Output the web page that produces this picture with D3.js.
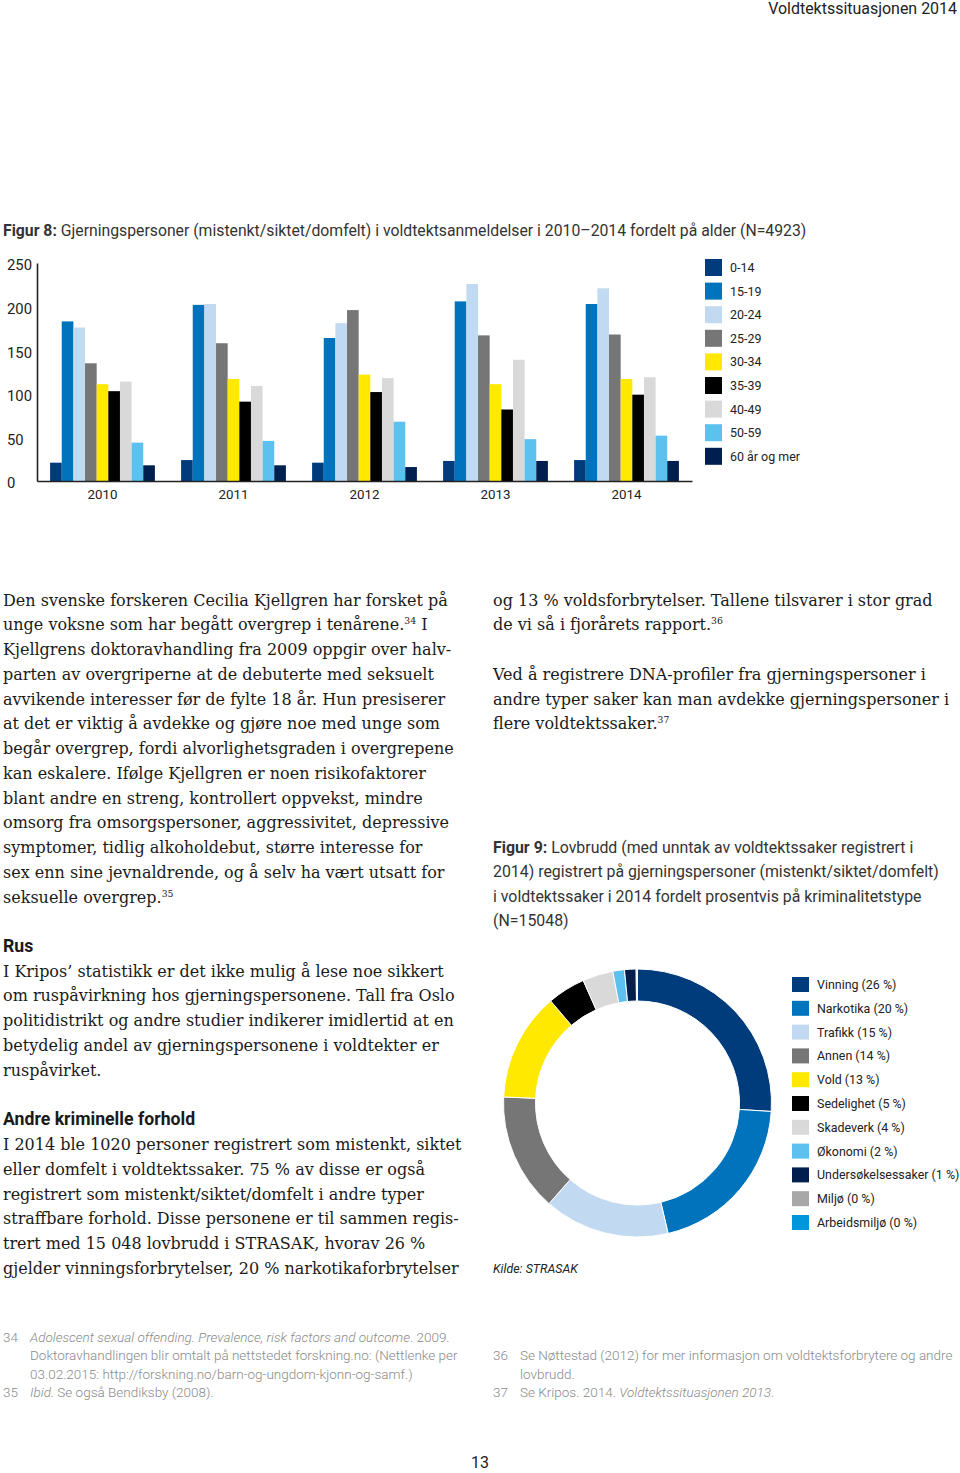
<!DOCTYPE html>
<html><head><meta charset="utf-8">
<script src="https://cdn.jsdelivr.net/npm/d3@7"></script>
<style>html,body{margin:0;padding:0;background:#fff}</style>
</head><body>
<script>
// ---------- DATA ----------
const years = ["2010","2011","2012","2013","2014"];
const ageGroups = ["0-14","15-19","20-24","25-29","30-34","35-39","40-49","50-59","60 år og mer"];
const ageColors = ["#003b7c","#0073bd","#c2daf1","#767676","#ffe900","#000000","#d9d9d9","#5cc1ee","#001f4f"];
const counts2010 = [21,183,176,135,111,103,114,44,18];
const counts2011 = [24,202,203,158,117,91,109,46,18];
const counts2012 = [21,164,181,196,122,102,118,68,16];
const counts2013 = [23,206,226,167,111,82,139,48,23];
const counts2014 = [24,203,221,168,117,99,119,52,23];
const countsByYear = [counts2010,counts2011,counts2012,counts2013,counts2014];
const yTicks = [0,50,100,150,200,250];

const crimeTypes = ["Vinning","Narkotika","Trafikk","Annen","Vold","Sedelighet","Skadeverk","Økonomi","Undersøkelsessaker","Miljø","Arbeidsmiljø"];
const crimeShares = [26.1,20.4,15.2,14.3,13.1,4.6,3.7,1.4,1.4,0.08,0.08];
const crimeLabels = ["26 %","20 %","15 %","14 %","13 %","5 %","4 %","2 %","1 %","0 %","0 %"];
const crimeColors = ["#003b7c","#0073bd","#c2daf1","#767676","#ffe900","#000000","#d9d9d9","#5cc1ee","#001f4f","#a8a8a8","#0096db"];

const headerText = "Voldtektssituasjonen 2014";
const fig8Title = "**Figur 8:** Gjerningspersoner (mistenkt/siktet/domfelt) i voldtektsanmeldelser i 2010–2014 fordelt på alder (N=4923)";
const fig9Title = [
  "**Figur 9:** Lovbrudd (med unntak av voldtektssaker registrert i",
  "2014) registrert på gjerningspersoner (mistenkt/siktet/domfelt)",
  "i voldtektssaker i 2014 fordelt prosentvis på kriminalitetstype",
  "(N=15048)"];
const source9 = "Kilde: STRASAK";
const para1 = [
  "Den svenske forskeren Cecilia Kjellgren har forsket på",
  "unge voksne som har begått overgrep i tenårene.^34 I",
  "Kjellgrens doktoravhandling fra 2009 oppgir over halv-",
  "parten av overgriperne at de debuterte med seksuelt",
  "avvikende interesser før de fylte 18 år. Hun presiserer",
  "at det er viktig å avdekke og gjøre noe med unge som",
  "begår overgrep, fordi alvorlighetsgraden i overgrepene",
  "kan eskalere. Ifølge Kjellgren er noen risikofaktorer",
  "blant andre en streng, kontrollert oppvekst, mindre",
  "omsorg fra omsorgspersoner, aggressivitet, depressive",
  "symptomer, tidlig alkoholdebut, større interesse for",
  "sex enn sine jevnaldrende, og å selv ha vært utsatt for",
  "seksuelle overgrep.^35"];
const head2 = "Rus";
const para2 = [
  "I Kripos’ statistikk er det ikke mulig å lese noe sikkert",
  "om ruspåvirkning hos gjerningspersonene. Tall fra Oslo",
  "politidistrikt og andre studier indikerer imidlertid at en",
  "betydelig andel av gjerningspersonene i voldtekter er",
  "ruspåvirket."];
const head3 = "Andre kriminelle forhold";
const para3 = [
  "I 2014 ble 1020 personer registrert som mistenkt, siktet",
  "eller domfelt i voldtektssaker. 75 % av disse er også",
  "registrert som mistenkt/siktet/domfelt i andre typer",
  "straffbare forhold. Disse personene er til sammen regis-",
  "trert med 15 048 lovbrudd i STRASAK, hvorav 26 %",
  "gjelder vinningsforbrytelser, 20 % narkotikaforbrytelser"];
const paraRight = [
  "og 13 % voldsforbrytelser. Tallene tilsvarer i stor grad",
  "de vi så i fjorårets rapport.^36",
  "",
  "Ved å registrere DNA-profiler fra gjerningspersoner i",
  "andre typer saker kan man avdekke gjerningspersoner i",
  "flere voldtektssaker.^37"];
const footLeft = [
  ["34","_Adolescent sexual offending. Prevalence, risk factors and outcome_. 2009."],
  ["","Doktoravhandlingen blir omtalt på nettstedet forskning.no: (Nettlenke per"],
  ["","03.02.2015: http://forskning.no/barn-og-ungdom-kjonn-og-samf.)"],
  ["35","_Ibid._ Se også Bendiksby (2008)."]];
const footRight = [
  ["36","Se Nøttestad (2012) for mer informasjon om voldtektsforbrytere og andre"],
  ["","lovbrudd."],
  ["37","Se Kripos. 2014. _Voldtektssituasjonen 2013_."]];
const pageNo = "13";

// ---------- SETUP ----------
const W = 960, H = 1473;
const SERIF = "'DejaVu Serif', serif";
const SANS = "Roboto, 'Noto Sans', sans-serif";
const svg = d3.select("body").append("svg").attr("width", W).attr("height", H)
  .style("display","block");

function fit(str, family, target, weight, style) {
  const t = svg.append("text").attr("font-family", family).attr("font-size", 100)
    .attr("font-weight", weight || 400).attr("font-style", style || "normal").text(str);
  const w = t.node().getComputedTextLength(); t.remove();
  return 100 * target / w;
}
const bodySize = fit(para1[0], SERIF, 445);
const capSize = fit("Gjerningspersoner (mistenkt/siktet/domfelt) i voldtektsanmeldelser i 2010–2014 fordelt på alder (N=4923)", SANS, 746);
const cap9Size = fit(fig9Title[1], SANS, 446);
const legSize = fit("60 år og mer", SANS, 70);
const footSize = fit("Doktoravhandlingen blir omtalt på nettstedet forskning.no: (Nettlenke per", SANS, 428, 300);
const axisSize = fit("2010", SANS, 30);
const yLabSize = fit("250", SANS, 25);
const headerSize = fit(headerText, SANS, 189);

function richLine(g, x, y, str, opts) {
  const t = g.append("text").attr("x", x).attr("y", y)
    .attr("font-family", opts.family).attr("font-size", opts.size)
    .attr("font-weight", opts.weight || 400).attr("fill", opts.fill || "#1a1a1a");
  const parts = str.split(/(\*\*[^*]+\*\*|_[^_]+_|\^\d+)/).filter(s => s.length);
  let raised = false;
  parts.forEach(p => {
    const ts = t.append("tspan");
    if (raised) { ts.attr("dy", opts.size * 0.38); raised = false; }
    if (p.startsWith("**")) ts.attr("font-weight", 700).text(p.slice(2, -2));
    else if (p.startsWith("_")) ts.attr("font-style", "italic").text(p.slice(1, -1));
    else if (p.startsWith("^")) { ts.attr("font-size", opts.size * 0.58).attr("dy", -opts.size * 0.38).text(p.slice(1)); raised = true; }
    else ts.text(p);
  });
  return t;
}
function block(lines, x, y0, pitch, opts) {
  const g = svg.append("g");
  lines.forEach((l, i) => { if (l) richLine(g, x, y0 + i * pitch, l, opts); });
}

// header
svg.append("text").attr("x", 957).attr("y", 14).attr("text-anchor", "end")
  .attr("font-family", SANS).attr("font-size", headerSize).attr("fill", "#222").text(headerText);

// ---------- FIGURE 8 ----------
richLine(svg, 3, 236, fig8Title, {family: SANS, size: capSize, fill: "#333"});

const x0 = d3.scaleBand().domain(years).range([37, 692]).paddingInner(0.2).paddingOuter(0.1);
const x1 = d3.scaleBand().domain(ageGroups).range([0, x0.bandwidth()]);
const y = d3.scaleLinear().domain([0, 250]).range([481, 263]);
const ageColor = d3.scaleOrdinal().domain(ageGroups).range(ageColors);

const bars = svg.append("g");
years.forEach((yr, yi) => {
  bars.append("g").attr("transform", `translate(${x0(yr)},0)`)
    .selectAll("rect").data(countsByYear[yi].map((v, i) => ({k: ageGroups[i], v})))
    .join("rect")
    .attr("x", d => x1(d.k)).attr("width", x1.bandwidth())
    .attr("y", d => y(d.v)).attr("height", d => y(0) - y(d.v))
    .attr("fill", d => ageColor(d.k));
});

// y axis
const yAxis = svg.append("g").attr("transform", "translate(37,0)")
  .call(d3.axisLeft(y).tickValues(yTicks).tickSize(0).tickPadding(0).tickFormat(d3.format("d")));
yAxis.select(".domain").attr("stroke", "#222").attr("stroke-width", 1.6);
yAxis.selectAll("text").attr("x", -30).attr("text-anchor", "start")
  .attr("font-family", SANS).attr("font-size", yLabSize).attr("fill", "#222")
  .attr("dy", "0.36em");
yAxis.selectAll(".tick").attr("transform", d => `translate(0,${y(d) + 2})`);

// x axis
const xAxis = svg.append("g").attr("transform", `translate(0,${y(0)})`)
  .call(d3.axisBottom(x0).tickSize(0).tickPadding(9).tickSizeOuter(0));
xAxis.select(".domain").attr("stroke", "#222").attr("stroke-width", 1.6);
xAxis.selectAll("text").attr("font-family", SANS).attr("font-size", axisSize).attr("fill", "#222");

// legend
const leg8 = svg.append("g").selectAll("g").data(ageGroups).join("g")
  .attr("transform", (d, i) => `translate(705,${259 + i * 23.6})`);
leg8.append("rect").attr("width", 17).attr("height", 17).attr("fill", d => ageColor(d));
leg8.append("text").attr("x", 25).attr("y", 13).attr("font-family", SANS)
  .attr("font-size", legSize).attr("fill", "#222").text(d => d);

// ---------- BODY TEXT ----------
const bodyOpts = {family: SERIF, size: bodySize, fill: "#1a1a1a"};
const P = 24.75;
block(para1, 3, 605.7, P, bodyOpts);
svg.append("text").attr("x", 3).attr("y", 952).attr("font-family", SANS).attr("font-weight", 700)
  .attr("font-size", capSize * 1.12).attr("fill", "#1a1a1a").text(head2);
block(para2, 3, 976.7, P, bodyOpts);
svg.append("text").attr("x", 3).attr("y", 1125).attr("font-family", SANS).attr("font-weight", 700)
  .attr("font-size", capSize * 1.12).attr("fill", "#1a1a1a").text(head3);
block(para3, 3, 1150, P, bodyOpts);
block(paraRight, 493, 605.5, P, bodyOpts);

// ---------- FIGURE 9 ----------
block(fig9Title, 493, 852.5, 24.6, {family: SANS, size: cap9Size, fill: "#333"});

const crimeColor = d3.scaleOrdinal().domain(crimeTypes).range(crimeColors);
const pie = d3.pie().sort(null).value(d => d.v);
const arc = d3.arc().innerRadius(102).outerRadius(134);
const pieData = pie(crimeTypes.map((k, i) => ({k, v: crimeShares[i]})));
svg.append("g").attr("transform", "translate(637.5,1103)")
  .selectAll("path").data(pieData).join("path")
  .attr("d", arc).attr("fill", d => crimeColor(d.data.k))
  .attr("stroke", "#fff").attr("stroke-width", 1);

const leg9 = svg.append("g").selectAll("g").data(crimeTypes).join("g")
  .attr("transform", (d, i) => `translate(792,${977 + i * 23.8})`);
leg9.append("rect").attr("width", 17).attr("height", 15).attr("fill", d => crimeColor(d));
leg9.append("text").attr("x", 25).attr("y", 12).attr("font-family", SANS)
  .attr("font-size", legSize).attr("fill", "#222")
  .text((d, i) => `${d} (${crimeLabels[i]})`);

svg.append("text").attr("x", 493).attr("y", 1273).attr("font-family", SANS)
  .attr("font-style", "italic").attr("font-size", legSize).attr("fill", "#222").text(source9);

// ---------- FOOTNOTES ----------
function footnotes(list, x, y0) {
  list.forEach((f, i) => {
    const yy = y0 + i * 18.3;
    if (f[0]) svg.append("text").attr("x", x).attr("y", yy).attr("font-family", SANS)
      .attr("font-weight", 300).attr("font-size", footSize).attr("fill", "#8a8a8a").text(f[0]);
    richLine(svg, x + 27, yy, f[1], {family: SANS, size: footSize, weight: 300, fill: "#8a8a8a"});
  });
}
footnotes(footLeft, 3, 1342);
footnotes(footRight, 493, 1360.3);

svg.append("text").attr("x", 480).attr("y", 1468).attr("text-anchor", "middle")
  .attr("font-family", SANS).attr("font-size", headerSize).attr("fill", "#222").text(pageNo);
</script>
</body></html>
